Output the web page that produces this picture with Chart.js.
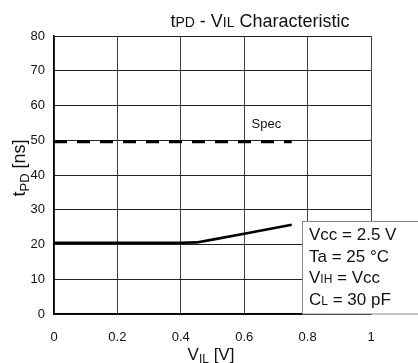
<!DOCTYPE html>
<html>
<head>
<meta charset="utf-8">
<script src="https://cdn.jsdelivr.net/npm/chart.js@4/dist/chart.umd.min.js"></script>
<style>
  html, body { margin: 0; padding: 0; background: #fff; }
  #wrap { width: 418px; height: 363px; }
</style>
</head>
<body>
<div id="wrap"><canvas id="tpdChart"></canvas></div>
<script>
// Data
const vilValues = [0, 0.1, 0.2, 0.3, 0.4, 0.45, 0.5, 0.6, 0.7, 0.75];
const tpdValues = [20.5, 20.5, 20.5, 20.5, 20.5, 20.6, 21.4, 23.1, 24.8, 25.7];
const specVil = [0, 0.75];
const specTpd = [49.6, 49.6];
const conditionLines = [
  [["Vcc = 2.5 V", 1]],
  [["Ta = 25 °C", 1]],
  [["V", 1], ["IH", 0.73], [" = Vcc", 1]],
  [["C", 1], ["L", 0.73], [" = 30 pF", 1]],
];

const FONT = "'Liberation Sans', Arial, sans-serif";
const ctx = document.getElementById("tpdChart");

// draw a run of text pieces with different sizes; parts = [text, scale, dy]
function drawRich(c, parts, x, y, size, align) {
  let total = 0;
  parts.forEach(([t, s]) => {
    c.font = `${Math.round(size * s)}px ${FONT}`;
    total += c.measureText(t).width;
  });
  let cx = align === "center" ? x - total / 2 : x;
  c.textAlign = "left";
  c.textBaseline = "alphabetic";
  parts.forEach(([t, s, dy]) => {
    c.font = `${Math.round(size * s)}px ${FONT}`;
    c.fillText(t, cx, y + (dy || 0));
    cx += c.measureText(t).width;
  });
}

// titles, spec label and the condition box
const annotations = {
  id: "annotations",
  afterDraw(chart) {
    const c = chart.ctx;
    const x = chart.scales.x;
    const y = chart.scales.y;
    c.save();
    c.fillStyle = "#111";

    drawRich(c, [["t", 1], ["PD", 0.75], [" - V", 1], ["IL", 0.75], [" Characteristic", 1]], 260, 27, 18, "center");
    drawRich(c, [["V", 1], ["IL", 0.72, 3], [" [V]", 1]], 211, 360, 17, "center");

    c.save();
    c.translate(25, 168);
    c.rotate(-Math.PI / 2);
    drawRich(c, [["t", 1], ["PD", 0.72, 4], [" [ns]", 1]], 0, 0, 18, "center");
    c.restore();

    c.font = `13px ${FONT}`;
    c.textAlign = "center";
    c.fillText("Spec", x.getPixelForValue(0.67), y.getPixelForValue(53.6));

    // condition box
    const bx = 302.5, by = 221.5;
    c.fillStyle = "#fff";
    c.fillRect(bx, by, 130, y.bottom - by);
    c.strokeStyle = "#888";
    c.lineWidth = 1;
    c.strokeRect(bx, by, 130, y.bottom - by);
    c.fillStyle = "#111";
    conditionLines.forEach((parts, i) => {
      drawRich(c, parts, 309, 240 + i * 21.7, 16.5, "left");
    });
    c.restore();
  },
};

new Chart(ctx, {
  type: "scatter",
  data: {
    datasets: [
      {
        label: "tPD",
        data: vilValues.map((v, i) => ({ x: v, y: tpdValues[i] })),
        showLine: true,
        borderColor: "#000",
        borderWidth: 2.6,
        pointRadius: 0,
        tension: 0,
      },
      {
        label: "Spec",
        data: specVil.map((v, i) => ({ x: v, y: specTpd[i] })),
        showLine: true,
        borderColor: "#000",
        borderWidth: 3,
        borderDash: [13, 10],
        pointRadius: 0,
      },
    ],
  },
  plugins: [annotations],
  options: {
    responsive: true,
    maintainAspectRatio: false,
    animation: false,
    events: [],
    layout: { padding: { top: 36, right: 47, left: 0, bottom: 0 } },
    plugins: {
      legend: { display: false },
      title: { display: false },
      tooltip: { enabled: false },
    },
    scales: {
      x: {
        type: "linear",
        min: 0,
        max: 1,
        afterFit: (s) => { s.height = 49; },
        ticks: {
          stepSize: 0.2,
          padding: 16,
          maxRotation: 0,
          color: "#111",
          font: { family: FONT, size: 13 },
          callback: (v) => String(Math.round(v * 10) / 10),
        },
        grid: { color: "#444", lineWidth: 1, drawTicks: false },
        border: { color: "#000", width: 1.5 },
      },
      y: {
        min: 0,
        max: 80,
        afterFit: (s) => { s.width = 54; },
        ticks: {
          stepSize: 10,
          padding: 9,
          color: "#111",
          font: { family: FONT, size: 13 },
        },
        grid: { color: "#222", lineWidth: 1, drawTicks: false },
        border: { color: "#000", width: 1.5 },
      },
    },
  },
});
</script>
</body>
</html>
